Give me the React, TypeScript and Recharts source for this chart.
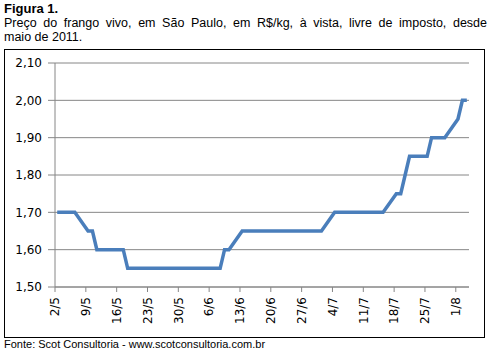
import { CartesianGrid, Line, LineChart, XAxis, YAxis } from "recharts";

// business days (d/m, 2011) and price in R$/kg
const dates = [
  "2/5", "3/5", "4/5", "5/5", "6/5", "9/5", "10/5", "11/5", "12/5", "13/5",
  "16/5", "17/5", "18/5", "19/5", "20/5", "23/5", "24/5", "25/5", "26/5", "27/5",
  "30/5", "31/5", "1/6", "2/6", "3/6", "6/6", "7/6", "8/6", "9/6", "10/6",
  "13/6", "14/6", "15/6", "16/6", "17/6", "20/6", "21/6", "22/6", "23/6", "24/6",
  "27/6", "28/6", "29/6", "30/6", "1/7", "4/7", "5/7", "6/7", "7/7", "8/7",
  "11/7", "12/7", "13/7", "14/7", "15/7", "18/7", "19/7", "20/7", "21/7", "22/7",
  "25/7", "26/7", "27/7", "28/7", "29/7", "1/8", "2/8", "3/8",
];

const prices = [
  1.7, 1.7, 1.7, 1.7, 1.7, 1.65, 1.65, 1.6, 1.6, 1.6,
  1.6, 1.6, 1.55, 1.55, 1.55, 1.55, 1.55, 1.55, 1.55, 1.55,
  1.55, 1.55, 1.55, 1.55, 1.55, 1.55, 1.55, 1.55, 1.6, 1.6,
  1.65, 1.65, 1.65, 1.65, 1.65, 1.65, 1.65, 1.65, 1.65, 1.65,
  1.65, 1.65, 1.65, 1.65, 1.65, 1.7, 1.7, 1.7, 1.7, 1.7,
  1.7, 1.7, 1.7, 1.7, 1.7, 1.75, 1.75, 1.8, 1.85, 1.85,
  1.85, 1.9, 1.9, 1.9, 1.9, 1.95, 2.0, 2.0,
];

const tickLabels = [
  "2/5", "9/5", "16/5", "23/5", "30/5", "6/6", "13/6",
  "20/6", "27/6", "4/7", "11/7", "18/7", "25/7", "1/8",
];

const yTicks = [1.5, 1.6, 1.7, 1.8, 1.9, 2.0, 2.1];

const START = Date.UTC(2011, 4, 2);
const END_LABEL = "4/8"; // axis runs to the end of 3/8

function dayIndex(label: string) {
  const [d, m] = label.split("/").map(Number);
  return Math.round((Date.UTC(2011, m - 1, d) - START) / 86400000);
}

// points sit in the middle of their day, as on an Excel date axis
const data = dates.map((d, i) => ({ day: dayIndex(d) + 0.5, price: prices[i] }));
const xTicks = tickLabels.map(dayIndex);
const labelByDay: Record<number, string> = {};
tickLabels.forEach((l) => (labelByDay[dayIndex(l)] = l));

const GRID = "#868686";
const TICK_FONT = "'DejaVu Sans', sans-serif";

function XTick({ x, y, payload }: any) {
  return (
    <g transform={`translate(${x},${y})`}>
      <text
        transform="rotate(-90)"
        x={-3}
        y={0}
        dy="0.35em"
        textAnchor="end"
        fontSize={12}
        fontFamily={TICK_FONT}
        fill="#000"
      >
        {labelByDay[payload.value]}
      </text>
    </g>
  );
}

export default function App() {
  return (
    <div
      style={{
        position: "absolute",
        left: 0,
        top: 0,
        width: 490,
        height: 352,
        background: "#fff",
        fontFamily: "'Liberation Sans', Arial, sans-serif",
        color: "#000",
      }}
    >
      <div style={{ position: "absolute", left: 4, top: 2, width: 483, fontSize: 12.5, lineHeight: "14px" }}>
        <div style={{ fontWeight: "bold", fontSize: 13 }}>Figura 1.</div>
        <div style={{ textAlign: "justify", textAlignLast: "justify" }}>
          Preço do frango vivo, em São Paulo, em R$/kg, à vista, livre de imposto, desde
        </div>
        <div>maio de 2011.</div>
      </div>
      <div
        style={{
          position: "absolute",
          left: 4,
          top: 49,
          width: 481,
          height: 289,
          boxSizing: "border-box",
          border: "1px solid #000",
        }}
      />
      <div style={{ position: "absolute", left: 4, top: 337, fontSize: 11, lineHeight: "14px" }}>
        Fonte: Scot Consultoria - www.scotconsultoria.com.br
      </div>
      <div style={{ position: "absolute", left: 0, top: 0 }}>
        <LineChart
          width={490}
          height={352}
          data={data}
          margin={{ top: 63, right: 21, left: 5, bottom: 25 }}
        >
          <CartesianGrid vertical={false} stroke={GRID} strokeWidth={1} />
          <XAxis
            dataKey="day"
            type="number"
            domain={[0, dayIndex(END_LABEL)]}
            ticks={xTicks}
            interval={0}
            height={40}
            tick={<XTick />}
            tickSize={5}
            tickLine={{ stroke: GRID }}
            axisLine={{ stroke: GRID }}
          />
          <YAxis
            type="number"
            domain={[1.5, 2.1]}
            ticks={yTicks}
            interval={0}
            width={50}
            tickSize={7}
            tickMargin={6}
            tickLine={{ stroke: GRID }}
            axisLine={{ stroke: GRID }}
            tick={{ fontSize: 12, fontFamily: TICK_FONT, fill: "#000" }}
            tickFormatter={(v: number) => v.toFixed(2).replace(".", ",")}
          />
          <Line
            type="linear"
            dataKey="price"
            stroke="#4a7ebb"
            strokeWidth={3.5}
            dot={false}
            isAnimationActive={false}
          />
        </LineChart>
      </div>
    </div>
  );
}
